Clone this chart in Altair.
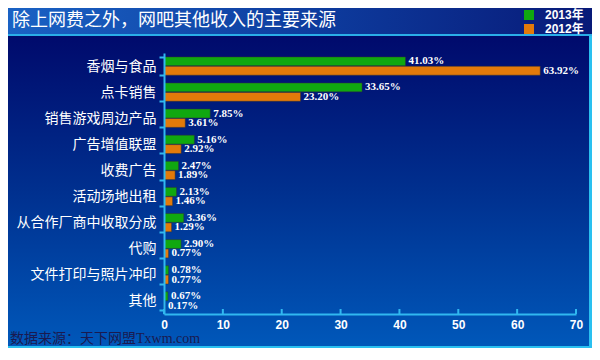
import altair as alt
import pandas as pd

categories = ["香烟与食品", "点卡销售", "销售游戏周边产品", "广告增值联盟", "收费广告",
              "活动场地出租", "从合作厂商中收取分成", "代购", "文件打印与照片冲印", "其他"]
years = ["2013年", "2012年"]
v2013 = [41.03, 33.65, 7.85, 5.16, 2.47, 2.13, 3.36, 2.90, 0.78, 0.67]
v2012 = [63.92, 23.20, 3.61, 2.92, 1.89, 1.46, 1.29, 0.77, 0.77, 0.17]
x_ticks = [0, 10, 20, 30, 40, 50, 60, 70]
colors = ["#10a810", "#e37a0a"]

rows = []
for c, a, b in zip(categories, v2013, v2012):
    rows.append({"cat": c, "year": years[0], "v": a, "lab": f"{a:.2f}%"})
    rows.append({"cat": c, "year": years[1], "v": b, "lab": f"{b:.2f}%"})
df = pd.DataFrame(rows)

W, H = 412, 261
PADL, PADT, PADR, PADB = 156, 45, 16, 34
RIGHT = W + PADR          # right edge of the chart in plot coords
BOTTOM = H + PADB         # bottom edge of the chart in plot coords
one = pd.DataFrame({"a": [0]})

SANS_CJK = "Noto Sans CJK SC"
SERIF = "Liberation Serif, Noto Sans CJK SC"
BOLD_SANS = "Liberation Sans, Noto Sans CJK SC"

def grad(stops, horizontal=False):
    return alt.LinearGradient(
        gradient="linear",
        stops=[alt.GradientStop(color=c, offset=o) for o, c in stops],
        x1=0, y1=0, x2=1 if horizontal else 0, y2=0 if horizontal else 1,
    )

# backgrounds (plot origin is at page pixel (164, 53))
main_bg = alt.Chart(one).mark_rect(fill=grad([(0, "#000a6c"), (0.5, "#00308f"), (1, "#0058ba")])).encode(
    x=alt.value(-PADL), x2=alt.value(RIGHT), y=alt.value(-17), y2=alt.value(BOTTOM))
header = alt.Chart(one).mark_rect(fill=grad([(0, "#1a62c4"), (0.55, "#0d3a9c"), (1, "#081a78")], horizontal=True)).encode(
    x=alt.value(-PADL), x2=alt.value(RIGHT), y=alt.value(-PADT), y2=alt.value(-19))
cyan_line = alt.Chart(one).mark_rect(fill="#2aaee8").encode(
    x=alt.value(-PADL), x2=alt.value(RIGHT), y=alt.value(-19), y2=alt.value(-17))
bottom_line = alt.Chart(one).mark_rect(fill="#2ac0f0").encode(
    x=alt.value(-PADL), x2=alt.value(RIGHT), y=alt.value(BOTTOM - 2), y2=alt.value(BOTTOM))
right_line = alt.Chart(one).mark_rect(fill="#2ac0f0").encode(
    x=alt.value(RIGHT - 3), x2=alt.value(RIGHT), y=alt.value(-17), y2=alt.value(BOTTOM))

title = alt.Chart(one).mark_text(text="除上网费之外，网吧其他收入的主要来源", align="left", baseline="middle",
                                 font=SANS_CJK, fontSize=18, color="white").encode(
    x=alt.value(-152), y=alt.value(-32))
source = alt.Chart(one).mark_text(text="数据来源：天下网盟Txwm.com", align="left", baseline="middle",
                                  font=SERIF, fontSize=14, color="#1a1a50").encode(
    x=alt.value(-154), y=alt.value(H + 25))

y_enc = alt.Y("cat:N", sort=categories, title=None,
              scale=alt.Scale(domain=categories, paddingInner=0.3, paddingOuter=0.15),
              axis=alt.Axis(labelColor="white", labelFont=SANS_CJK, labelFontSize=14,
                            domainColor="#30b8f0", domainWidth=2, tickColor="#30b8f0", tickWidth=2,
                            tickSize=5, tickBand="extent", labelPadding=3, zindex=2))
x_enc = alt.X("v:Q", title=None, scale=alt.Scale(domain=[0, 70], nice=False),
              axis=alt.Axis(values=x_ticks, labelColor="white", labelFont=BOLD_SANS, labelFontWeight="bold",
                            labelFontSize=12, domainColor="#30b8f0", domainWidth=2, ticks=False,
                            labelPadding=5, labelFlush=False, grid=False, zindex=2))
yoff = alt.YOffset("year:N", sort=years, scale=alt.Scale(domain=years, paddingInner=0.06))

bars = alt.Chart(df).mark_bar(strokeWidth=0.8, strokeOpacity=0.6, stroke="#333333").encode(
    x=x_enc, y=y_enc, yOffset=yoff,
    color=alt.Color("year:N", sort=years, scale=alt.Scale(domain=years, range=colors),
                    legend=alt.Legend(title=None, orient="none", legendX=359, legendY=-44,
                                      symbolType="square", symbolSize=100, symbolStrokeWidth=0,
                                      labelColor="white", labelFont=BOLD_SANS, labelFontWeight="bold",
                                      labelFontSize=12, labelOffset=10, rowPadding=2, padding=0)),
)
labels = alt.Chart(df).mark_text(align="left", baseline="middle", dx=3, font=SERIF, fontWeight="bold",
                                 fontSize=11, color="white").encode(
    x=alt.X("v:Q"), y=alt.Y("cat:N", sort=categories), yOffset=alt.YOffset("year:N", sort=years), text="lab:N")

xt = pd.DataFrame({"t": x_ticks})
up_ticks = alt.Chart(xt).mark_rule(color="#30b8f0", strokeWidth=2).encode(
    x=alt.X("t:Q"), y=alt.value(H - 5), y2=alt.value(H))

chart = alt.layer(main_bg, header, cyan_line, bottom_line, right_line, title, source,
                  bars, labels, up_ticks).properties(
    width=W, height=H, padding={"left": PADL, "top": PADT, "right": PADR, "bottom": PADB},
    autosize=alt.AutoSizeParams(type="none"), background="#0a2a88",
).configure_view(stroke=None)

chart.save("out.html", embed_options={"renderer": "svg", "actions": False})
